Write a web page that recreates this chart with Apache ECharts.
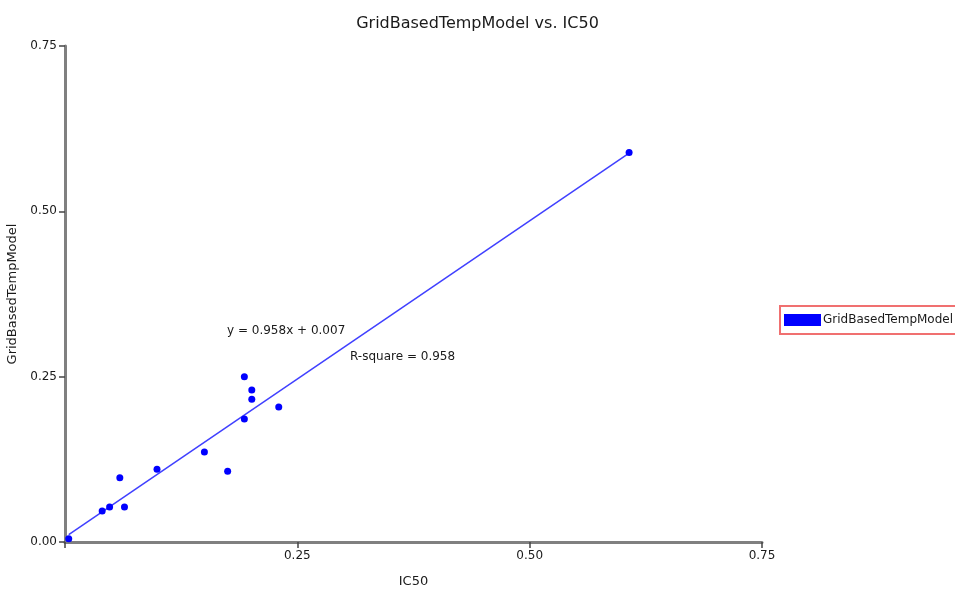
<!DOCTYPE html>
<html>
<head>
<meta charset="utf-8">
<script src="https://cdn.jsdelivr.net/npm/echarts@6/dist/echarts.min.js"></script>
<style>
  html, body { margin: 0; padding: 0; background: #fff; }
  #chart { width: 955px; height: 591px; }
</style>
</head>
<body>
<div id="chart"></div>
<script>
// IC50 vs GridBasedTempModel
const ic50 = [0.004, 0.040, 0.048, 0.064, 0.059, 0.099, 0.150, 0.175, 0.193, 0.201, 0.201, 0.193, 0.230, 0.607];
const model = [0.005, 0.047, 0.053, 0.053, 0.097, 0.110, 0.136, 0.107, 0.250, 0.230, 0.216, 0.186, 0.204, 0.589];
// fitted line endpoints (y = 0.958x + 0.007)
const fitLine = [[0.004, 0.011], [0.607, 0.588]];

const font = 'DejaVu Sans';
const chart = echarts.init(document.getElementById('chart'));

const option = {
    animation: false,
    textStyle: { fontFamily: font },
    title: {
        text: 'GridBasedTempModel vs. IC50',
        left: 'center',
        top: 11,
        textStyle: { fontFamily: font, fontSize: 16, fontWeight: 'normal', color: '#1a1a1a' }
    },
    legend: {
        left: 780,
        top: 306,
        padding: [8, 6, 8, 4],
        borderColor: '#f07070',
        borderWidth: 2,
        itemWidth: 37,
        itemHeight: 12,
        itemGap: 2,
        data: [{ name: 'GridBasedTempModel', icon: 'rect' }],
        textStyle: { fontFamily: font, fontSize: 12, color: '#1a1a1a', padding: [0, 0, 0, -3] }
    },
    grid: { left: 65, top: 46, right: 193, bottom: 49, outerBoundsMode: 'none', containLabel: false },
    xAxis: {
        type: 'value',
        min: 0,
        max: 0.75,
        interval: 0.25,
        name: 'IC50',
        nameLocation: 'middle',
        nameGap: 33,
        nameTextStyle: { fontFamily: font, fontSize: 13, color: '#1a1a1a' },
        axisLine: { lineStyle: { color: '#808080', width: 3 } },
        axisTick: { length: 6, lineStyle: { color: '#444', width: 1.5 } },
        splitLine: { show: false },
        axisLabel: {
            fontFamily: font, fontSize: 12, color: '#1a1a1a', margin: 8,
            formatter: v => v === 0 ? '' : v.toFixed(2)
        }
    },
    yAxis: {
        type: 'value',
        min: 0,
        max: 0.75,
        interval: 0.25,
        name: 'GridBasedTempModel',
        nameLocation: 'middle',
        nameGap: 38,
        nameTextStyle: { fontFamily: font, fontSize: 13, color: '#1a1a1a' },
        axisLine: { show: true, lineStyle: { color: '#808080', width: 3 } },
        axisTick: { show: true, length: 6, lineStyle: { color: '#444', width: 1.5 } },
        splitLine: { show: false },
        axisLabel: {
            fontFamily: font, fontSize: 12, color: '#1a1a1a', margin: 8,
            formatter: v => v.toFixed(2)
        }
    },
    graphic: [
        { type: 'text', left: 227, top: 325, style: { text: 'y = 0.958x + 0.007', font: '12px "DejaVu Sans"', fill: '#1a1a1a' } },
        { type: 'text', left: 350, top: 351, style: { text: 'R-square = 0.958', font: '12px "DejaVu Sans"', fill: '#1a1a1a' } }
    ],
    series: [
        {
            name: 'fit',
            type: 'line',
            data: fitLine,
            symbol: 'none',
            lineStyle: { color: '#4040ff', width: 1.5 },
            silent: true,
            z: 1
        },
        {
            name: 'GridBasedTempModel',
            type: 'scatter',
            data: ic50.map((x, i) => [x, model[i]]),
            symbolSize: 7,
            itemStyle: { color: '#0000ff', opacity: 1 },
            z: 2
        }
    ]
};

chart.setOption(option);
</script>
</body>
</html>
